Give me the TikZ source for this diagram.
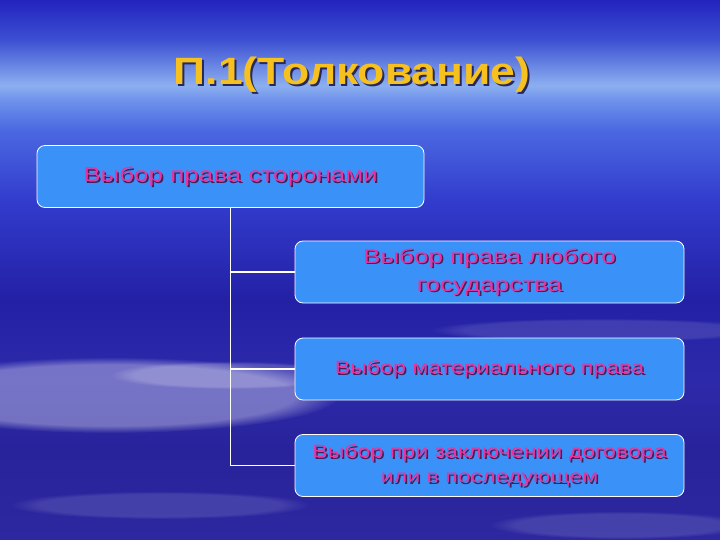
\documentclass[tikz,border=0pt]{standalone}
\usepackage{fontspec}
\setmainfont{Liberation Sans}
\newfontfamily\widefont[FakeStretch=1.3]{Liberation Sans}
\newfontfamily\titlefont[FakeStretch=1.17]{Liberation Sans}
\usetikzlibrary{fadings}
\definecolor{boxblue}{RGB}{58,146,248}
\definecolor{txtpink}{RGB}{232,52,160}
\definecolor{txtshadow}{RGB}{70,30,90}
\definecolor{titlegold}{RGB}{246,192,30}
\definecolor{titleshadow}{RGB}{40,40,90}
\definecolor{sky0}{RGB}{45,40,160}
\definecolor{sky1}{RGB}{40,35,155}
\definecolor{sky2}{RGB}{45,42,170}
\definecolor{sky3}{RGB}{35,32,165}
\definecolor{sky4}{RGB}{50,60,205}
\definecolor{sky5}{RGB}{75,105,225}
\definecolor{sky6}{RGB}{110,145,235}
\definecolor{sky7}{RGB}{140,175,240}
\definecolor{sky8}{RGB}{60,80,210}
\definecolor{sky9}{RGB}{35,35,190}
% the picture covers 25bp..75bp of the shading
\pgfdeclareverticalshading{skybg}{100bp}{
  color(0bp)=(sky0); color(25bp)=(sky0); color(33.3bp)=(sky1);
  color(39.8bp)=(sky2); color(47.2bp)=(sky3); color(56.5bp)=(sky4);
  color(63bp)=(sky5); color(65.7bp)=(sky6); color(67.1bp)=(sky7);
  color(71.3bp)=(sky8); color(75bp)=(sky9); color(100bp)=(sky9)}
\tikzset{
  optbox/.style={draw=white, line width=0.8pt, fill=boxblue, rounded corners=8pt,
    minimum height=62pt, inner sep=0pt},
  opttext/.style={text=txtpink, align=center, font=\widefont\fontsize{20}{28}\selectfont},
  smalltext/.style={font=\widefont\fontsize{17.8}{25}\selectfont},
  optshadow/.style={text=txtshadow},
  titletext/.style={font=\titlefont\bfseries\fontsize{38}{44}\selectfont},
  cloud/.style={fill=white, path fading=circle with fuzzy edge 20 percent},
  link/.style={draw=white, line width=1.4pt}
}
\begin{document}
\begin{tikzpicture}[x=1pt, y=-1pt]
\useasboundingbox (0,0) rectangle (720,540);
\shade[shading=skybg] (0,0) rectangle (720,540);
% clouds
\fill[cloud, opacity=0.35] (110,395) ellipse (230 and 38);
\fill[cloud, opacity=0.2] (230,375) ellipse (120 and 14);
\fill[cloud, opacity=0.12] (600,330) ellipse (170 and 12);
\fill[cloud, opacity=0.12] (160,505) ellipse (150 and 14);
\fill[cloud, opacity=0.12] (620,525) ellipse (130 and 14);
% title
\node[titletext, text=titleshadow] (titleshd) at (354,77) {П.1(Толкование)};
\node[titletext, text=titlegold] (title) at (352,75) {П.1(Толкование)};
% boxes
\node[optbox, minimum width=387pt] (top) at (230.5,176.5) {};
\node[optbox, minimum width=389pt] (opt1) at (489.5,272) {};
\node[optbox, minimum width=389pt] (opt2) at (489.5,369) {};
\node[optbox, minimum width=389pt] (opt3) at (489.5,465.5) {};
\draw[link] (top.south) |- (opt1.west);
\draw[link] (top.south) |- (opt2.west);
\draw[link] (top.south) |- (opt3.west);
% texts
\node[opttext, optshadow] (topshd) at ([shift={(1.5,1.5)}]top.center) {Выбор права сторонами};
\node[opttext] (toptxt) at (top.center) {Выбор права сторонами};
\node[opttext, optshadow] (opt1shd) at ([shift={(1.5,1.5)}]opt1.center) {Выбор права любого\\государства};
\node[opttext] (opt1txt) at (opt1.center) {Выбор права любого\\государства};
\node[opttext, smalltext, optshadow] (opt2shd) at ([shift={(1.5,1.5)}]opt2.center) {Выбор материального права};
\node[opttext, smalltext] (opt2txt) at (opt2.center) {Выбор материального права};
\node[opttext, smalltext, optshadow] (opt3shd) at ([shift={(1.5,1.5)}]opt3.center) {Выбор при заключении договора\\или в последующем};
\node[opttext, smalltext] (opt3txt) at (opt3.center) {Выбор при заключении договора\\или в последующем};
\end{tikzpicture}
\end{document}
